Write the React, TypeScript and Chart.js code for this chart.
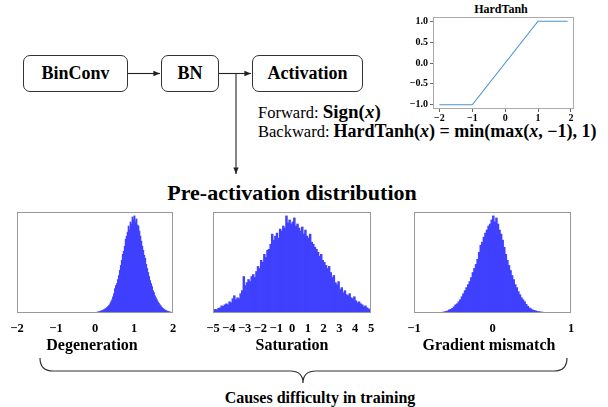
import React, { useEffect, useRef } from "react";
import { Chart, registerables } from "chart.js";
Chart.register(...registerables);

// ---- HardTanh inset data ----
const HT_X = [-2, -1, 1, 1.9];
const HT_Y = [-1, -1, 1, 1];
const HT_XTICKS = [-2, -1, 0, 1, 2];
const HT_YTICKS = [-1, -0.5, 0, 0.5, 1];

// ---- Histogram data (bin heights, % of the axes height) ----
const DEG_START = 0;
const DEG_BIN = 0.025;
const DEG_VALUES = [
  0.3, 0.5, 0.8, 1.0, 1.2, 1.6, 2.0, 2.4,
  2.8, 3.3, 4.0, 4.5, 5.5, 6.5, 7.5, 9,
  11, 13, 16, 19, 24, 27, 29, 33,
  37, 42, 47, 52, 58, 61, 66, 73,
  76, 80, 86, 82, 90, 88, 95, 92,
  96, 90, 93, 87, 86, 81, 76, 71,
  66, 62, 57, 54, 48, 44, 40, 36,
  32, 29, 26, 22, 20, 17, 15, 13,
  11, 9.5, 8, 7, 5.5, 4.5, 3.8, 3,
  2.5, 2, 1.6, 1.3, 1.0, 0.8, 0.5, 0.3,
];
const DEG_TICKS = [-2, -1, 0, 1, 2];

const SAT_START = -5;
const SAT_BIN = 0.1;
const SAT_VALUES = [
  2.5, 3.5, 3, 4.5, 5, 7, 6.5, 8, 9, 8,
  11, 10, 14, 17, 13, 15, 14, 19, 22, 36,
  27, 30, 33, 31, 36, 38, 35, 41, 46, 44,
  52, 50, 58, 55, 62, 63, 68, 78, 72, 76,
  79, 74, 83, 81, 86, 84, 96, 89, 92, 88,
  90, 94, 86, 88, 84, 81, 85, 78, 82, 76,
  74, 78, 70, 68, 65, 63, 60, 56, 58, 52,
  50, 47, 44, 46, 40, 35, 37, 30, 28, 31,
  23, 25, 20, 22, 18, 17, 19, 15, 14, 16,
  12, 10, 11, 9, 8, 6, 7, 5, 4, 3,
];
const SAT_TICKS = [-5, -4, -3, -2, -1, 0, 1, 2, 3, 4, 5];

const GM_START = -0.7;
const GM_BIN = 0.02;
const GM_VALUES = [
  0.3, 0.5, 0.5, 0.8, 1,
  1.5, 2, 3, 3.5, 4.5,
  6, 8, 9, 11, 13,
  16, 19, 22, 25, 28,
  31, 35, 40, 44, 48,
  53, 60, 67, 70, 75,
  79, 82, 86, 88, 92,
  96, 90, 94, 88, 82,
  78, 72, 65, 58, 52,
  47, 42, 37, 33, 28,
  25, 21, 18, 15, 13,
  11, 8.5, 6.5, 5, 4,
  3, 2.5, 2, 1.5, 1.2,
  1, 0.8, 0.6, 0.5, 0.4,
  0.3, 0.3, 0.2, 0.1, 0.1,
];
const GM_TICKS = [-1, 0, 1];

const SERIF = "'Liberation Serif', 'Times New Roman', serif";
const fmtMinus = (v: number, digits = 0) => {
  const s = Math.abs(v).toFixed(digits);
  return v < 0 ? "\u2212" + s : s;
};

const framePlugin = {
  id: "frame",
  afterDraw(chart: any, _args: any, opts: any) {
    const { ctx, chartArea: a } = chart;
    ctx.save();
    ctx.strokeStyle = opts.color || "#999";
    ctx.lineWidth = 1;
    const l = Math.round(a.left) + 0.5;
    const t = Math.round(a.top) + 0.5;
    const r = Math.round(a.right) - 0.5;
    const b = Math.round(a.bottom) - 0.5;
    ctx.strokeRect(l, t, r - l, b - t);
    ctx.restore();
  },
};

function HardTanhChart() {
  const ref = useRef<HTMLCanvasElement>(null);
  useEffect(() => {
    const chart = new Chart(ref.current!, {
      type: "line",
      data: {
        datasets: [
          {
            data: HT_X.map((x, i) => ({ x, y: HT_Y[i] })),
            borderColor: "#4b93d1",
            borderWidth: 1.1,
            pointRadius: 0,
            fill: false,
            tension: 0,
          },
        ],
      },
      options: {
        animation: false,
        responsive: false,
        maintainAspectRatio: false,
        layout: { padding: { left: 0, right: 11, top: 17, bottom: 0 } },
        plugins: {
          legend: { display: false },
          tooltip: { enabled: false },
          frame: { color: "#aaa" },
        } as any,
        scales: {
          x: {
            type: "linear",
            min: -2.195,
            max: 2.095,
            grid: { display: true, drawOnChartArea: false, drawTicks: true, tickLength: 3, color: "#666" },
            border: { display: false },
            afterBuildTicks: (s: any) => {
              s.ticks = HT_XTICKS.map((v) => ({ value: v }));
            },
            afterFit: (s: any) => {
              s.height = 16;
            },
            ticks: {
              padding: 0,
              color: "#000",
              maxRotation: 0,
              autoSkip: false,
              font: { family: SERIF, weight: "bold", size: 10 },
              callback: (v: any) => fmtMinus(Number(v)),
            },
          },
          y: {
            type: "linear",
            min: -1.1,
            max: 1.1,
            grid: { display: true, drawOnChartArea: false, drawTicks: true, tickLength: 3, color: "#666" },
            border: { display: false },
            afterBuildTicks: (s: any) => {
              s.ticks = HT_YTICKS.map((v) => ({ value: v }));
            },
            afterFit: (s: any) => {
              s.width = 38;
            },
            ticks: {
              padding: 2,
              color: "#000",
              autoSkip: false,
              font: { family: SERIF, weight: "bold", size: 10 },
              callback: (v: any) => fmtMinus(Number(v), 1),
            },
          },
        },
      },
      plugins: [framePlugin],
    } as any);
    return () => chart.destroy();
  }, []);
  return (
    <canvas
      ref={ref}
      width={190}
      height={125}
      style={{ position: "absolute", left: 395, top: 0, width: 190, height: 125 }}
    />
  );
}

function Histogram(props: {
  left: number;
  width: number;
  start: number;
  bin: number;
  values: number[];
  min: number;
  max: number;
  ticks: number[];
}) {
  const ref = useRef<HTMLCanvasElement>(null);
  useEffect(() => {
    const { start, bin, values, min, max, ticks } = props;
    const chart = new Chart(ref.current!, {
      type: "bar",
      data: {
        datasets: [
          {
            data: values.map((v, i) => ({ x: start + bin * (i + 0.5), y: v })),
            backgroundColor: "#4040ff",
            borderWidth: 0,
            barPercentage: 1,
            categoryPercentage: 1,
            inflateAmount: 0.45,
          },
        ],
      },
      options: {
        animation: false,
        responsive: false,
        maintainAspectRatio: false,
        layout: { padding: { left: 12, right: 12, top: 7, bottom: 0 } },
        plugins: {
          legend: { display: false },
          tooltip: { enabled: false },
          frame: { color: "#999" },
        } as any,
        scales: {
          x: {
            type: "linear",
            min,
            max,
            offset: false,
            grid: { display: false },
            border: { display: false },
            afterBuildTicks: (s: any) => {
              s.ticks = ticks.map((v) => ({ value: v }));
            },
            afterFit: (s: any) => {
              s.height = 22;
            },
            ticks: {
              padding: 0,
              color: "#000",
              maxRotation: 0,
              autoSkip: false,
              font: { family: SERIF, weight: "bold", size: 12.5 },
              callback: (v: any) => fmtMinus(Number(v)),
            },
          },
          y: { display: false, min: 0, max: 100 },
        },
      },
      plugins: [framePlugin],
    } as any);
    return () => chart.destroy();
  }, []);
  return (
    <canvas
      ref={ref}
      width={props.width}
      height={130}
      style={{ position: "absolute", left: props.left, top: 205, width: props.width, height: 130 }}
    />
  );
}

function CText(props: { cx: number; cy: number; size: number; bold?: boolean; children: any }) {
  const lh = Math.round(props.size * 1.3);
  return (
    <div
      style={{
        position: "absolute",
        left: props.cx - 200,
        width: 400,
        top: props.cy - lh / 2,
        lineHeight: lh + "px",
        height: lh,
        textAlign: "center",
        fontFamily: SERIF,
        fontSize: props.size,
        fontWeight: props.bold ? "bold" : "normal",
        whiteSpace: "nowrap",
        color: "#000",
      }}
    >
      {props.children}
    </div>
  );
}

function Box(props: { left: number; width: number; label: string }) {
  return (
    <div
      style={{
        position: "absolute",
        left: props.left,
        top: 55,
        width: props.width,
        height: 37,
        boxSizing: "border-box",
        border: "1.3px solid #333",
        borderRadius: 7,
        display: "flex",
        alignItems: "center",
        justifyContent: "center",
        fontFamily: SERIF,
        fontWeight: "bold",
        fontSize: 18,
        color: "#000",
        background: "#fff",
      }}
    >
      {props.label}
    </div>
  );
}

export default function App() {
  const math: React.CSSProperties = { fontFamily: SERIF, fontWeight: "bold", fontSize: 18 };
  return (
    <div
      style={{
        position: "absolute",
        left: 0,
        top: 0,
        width: 608,
        height: 407,
        background: "#fff",
        overflow: "hidden",
      }}
    >
      <svg width={608} height={407} style={{ position: "absolute", left: 0, top: 0 }}>
        <defs>
          <marker id="ah" viewBox="0 0 10 10" refX="10" refY="5" markerWidth="6" markerHeight="6" orient="auto">
            <path d="M0,1 L10,5 L0,9 z" fill="#222" />
          </marker>
        </defs>
        <line x1={128} y1={73.5} x2={160} y2={73.5} stroke="#222" strokeWidth={1.1} markerEnd="url(#ah)" />
        <line x1={219} y1={73.5} x2={251} y2={73.5} stroke="#222" strokeWidth={1.1} markerEnd="url(#ah)" />
        <line x1={236} y1={73.5} x2={236} y2={174} stroke="#222" strokeWidth={1.1} markerEnd="url(#ah)" />
        <path
          d="M40,358 Q40,371 53,371 L290,371 Q303,371 303,383 Q303,371 316,371 L554,371 Q567,371 567,358"
          fill="none"
          stroke="#333"
          strokeWidth={1.2}
        />
      </svg>
      <Box left={23} width={105} label="BinConv" />
      <Box left={161} width={58} label="BN" />
      <Box left={252} width={111} label="Activation" />

      <div
        style={{
          position: "absolute",
          left: 258,
          top: 102,
          lineHeight: "20px",
          fontFamily: SERIF,
          fontSize: 16.5,
          whiteSpace: "nowrap",
          color: "#000",
        }}
      >
        Forward: <span style={{ ...math, fontSize: 19 }}>Sign(<i>x</i>)</span>
      </div>
      <div
        style={{
          position: "absolute",
          left: 258,
          top: 121,
          lineHeight: "20px",
          fontFamily: SERIF,
          fontSize: 16.5,
          whiteSpace: "nowrap",
          color: "#000",
        }}
      >
        Backward: <span style={math}>HardTanh(<i>x</i>) = min(max(<i>x</i>, {"\u2212"}1), 1)</span>
      </div>

      <CText cx={501} cy={9} size={12} bold>
        HardTanh
      </CText>
      <HardTanhChart />

      <CText cx={292} cy={192} size={22} bold>
        Pre-activation distribution
      </CText>

      <Histogram left={5} width={180} start={DEG_START} bin={DEG_BIN} values={DEG_VALUES} min={-2} max={2} ticks={DEG_TICKS} />
      <Histogram left={201} width={182} start={SAT_START} bin={SAT_BIN} values={SAT_VALUES} min={-5} max={5} ticks={SAT_TICKS} />
      <Histogram left={402} width={181} start={GM_START} bin={GM_BIN} values={GM_VALUES} min={-1} max={1} ticks={GM_TICKS} />

      <CText cx={92} cy={344} size={16} bold>
        Degeneration
      </CText>
      <CText cx={292} cy={344} size={16} bold>
        Saturation
      </CText>
      <CText cx={489} cy={344} size={16} bold>
        Gradient mismatch
      </CText>
      <CText cx={320} cy={397} size={16} bold>
        Causes difficulty in training
      </CText>
    </div>
  );
}
